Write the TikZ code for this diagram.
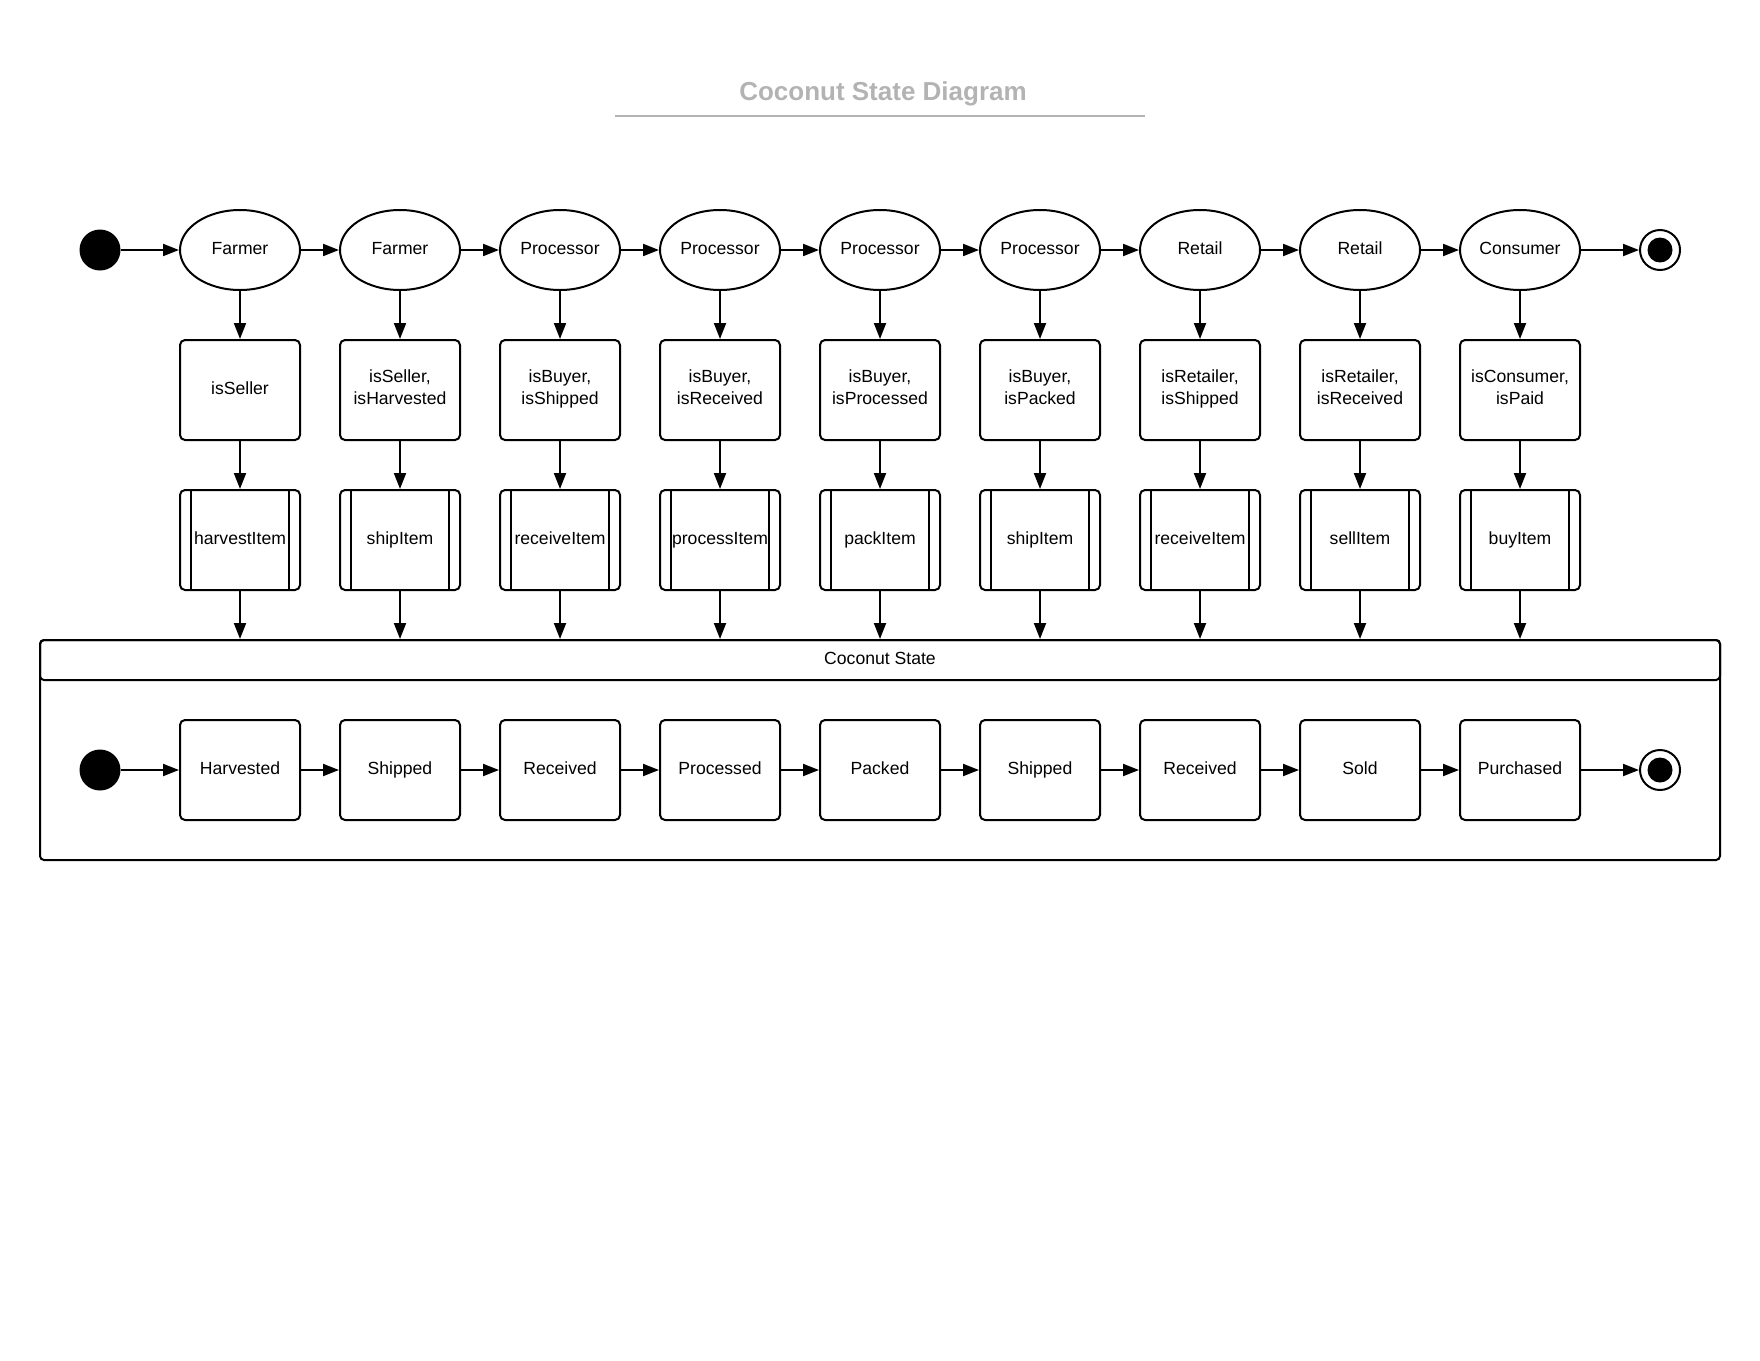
\documentclass[tikz,border=0pt]{standalone}
\usepackage{fontspec}
\setmainfont{Liberation Sans}
\usetikzlibrary{shapes.geometric,arrows.meta}
\definecolor{titlegray}{RGB}{179,179,179}
\begin{document}
\begin{tikzpicture}[x=1pt,y=-1pt,
  every node/.style={font=\fontsize{17.6}{21.7}\selectfont, align=center},
  oneline/.style={text height=12.6pt, text depth=3pt},
  twoline/.style={text height=34.3pt, text depth=5pt},
  role/.style={ellipse, draw, line width=2pt, minimum width=120pt, minimum height=80pt, inner sep=0pt, oneline},
  box/.style={rectangle, rounded corners=5pt, draw, line width=2pt, minimum width=120pt, minimum height=100pt, inner sep=0pt},
  guardbox/.style={box, twoline},
  guardone/.style={box, text height=12.6pt, text depth=4pt},
  actbox/.style={box, oneline},
  statebox/.style={box, oneline},
  bar/.style={line width=2pt},
  startdot/.style={circle, fill=black, minimum size=41pt, inner sep=0pt},
  enddot/.style={circle, draw, line width=2pt, minimum size=40pt, inner sep=0pt,
    path picture={\fill[black] (path picture bounding box.center) circle (12.5pt);}},
  flow/.style={line width=2pt, -{Triangle[length=16pt,width=12pt]}},
  frame/.style={draw, line width=2pt, rounded corners=4pt, inner sep=0pt, minimum width=1680pt}
]
\useasboundingbox (0,0) rectangle (1760,1360);

% title
\node[font=\bfseries\fontsize{26}{30}\selectfont, text=titlegray, anchor=base] (title) at (883,100) {Coconut State Diagram};
\draw[titlegray, line width=2pt] (615,115.5) -- (1145,115.5);

% composite state
\node[frame, minimum height=220pt] (comp) at (880,750) {};
\node[frame, minimum height=40pt, oneline] (comphead) at (880,660) {Coconut State};

% pseudo states
\node[startdot] (start) at (100,250) {};
\node[enddot] (end) at (1660,250) {};
\node[startdot] (sstart) at (100,770) {};
\node[enddot] (send) at (1660,770) {};

\foreach \i/\x/\r/\g/\a/\s in {
  2/400/Farmer/{isSeller,\\isHarvested}/shipItem/Shipped,
  3/560/Processor/{isBuyer,\\isShipped}/receiveItem/Received,
  4/720/Processor/{isBuyer,\\isReceived}/processItem/Processed,
  5/880/Processor/{isBuyer,\\isProcessed}/packItem/Packed,
  6/1040/Processor/{isBuyer,\\isPacked}/shipItem/Shipped,
  7/1200/Retail/{isRetailer,\\isShipped}/receiveItem/Received,
  8/1360/Retail/{isRetailer,\\isReceived}/sellItem/Sold,
  9/1520/Consumer/{isConsumer,\\isPaid}/buyItem/Purchased}
{
  \node[role] (r\i) at (\x,250) {\r};
  \node[guardbox] (g\i) at (\x,390) {\g};
  \node[actbox] (a\i) at (\x,540) {\a};
  \node[statebox] (s\i) at (\x,770) {\s};
}
\node[role] (r1) at (240,250) {Farmer};
\node[guardone] (g1) at (240,390) {isSeller};
\node[actbox] (a1) at (240,540) {harvestItem};
\node[statebox] (s1) at (240,770) {Harvested};

\foreach \i in {1,...,9}{
  \draw[bar] ([xshift=12pt]a\i.north west) -- ([xshift=12pt]a\i.south west);
  \draw[bar] ([xshift=-12pt]a\i.north east) -- ([xshift=-12pt]a\i.south east);
  \draw[flow] (r\i) -- (g\i);
  \draw[flow] (g\i) -- (a\i);
  \draw[flow] (a\i) -- (a\i |- comphead.north);
}

\draw[flow] (start) -- (r1);
\draw[flow] (sstart) -- (s1);
\foreach \i [evaluate=\i as \j using int(\i+1)] in {1,...,8}{
  \draw[flow] (r\i) -- (r\j);
  \draw[flow] (s\i) -- (s\j);
}
\draw[flow] (r9) -- (end);
\draw[flow] (s9) -- (send);
\end{tikzpicture}
\end{document}
